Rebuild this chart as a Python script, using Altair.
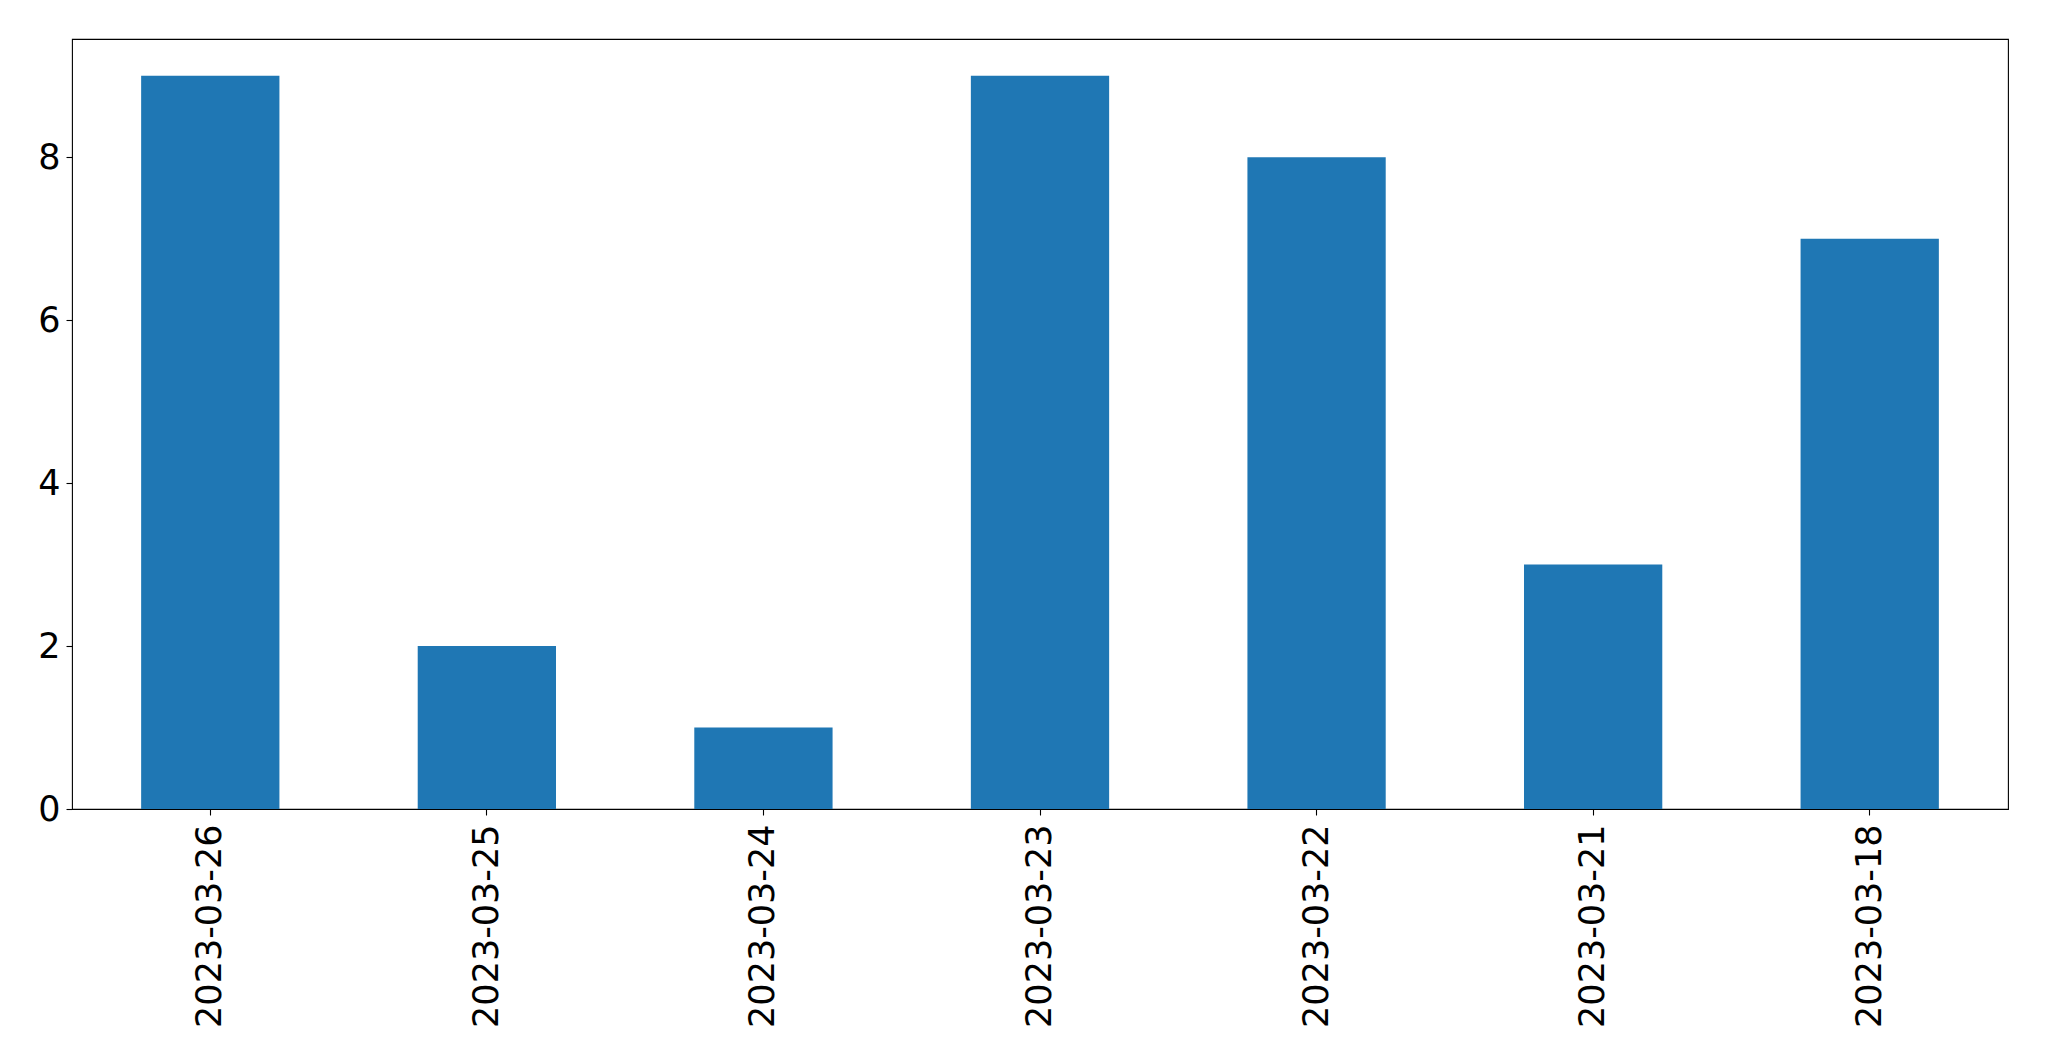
import altair as alt
import pandas as pd

dates = ["2023-03-26", "2023-03-25", "2023-03-24", "2023-03-23", "2023-03-22", "2023-03-21", "2023-03-18"]
counts = [9, 2, 1, 9, 8, 3, 7]
y_ticks = [0, 2, 4, 6, 8]

df = pd.DataFrame({"date": dates, "count": counts})

chart = alt.Chart(df).mark_bar(color="#1f77b4").encode(
    x=alt.X("date:N", sort=dates,
            scale=alt.Scale(paddingInner=0.5, paddingOuter=0.25),
            axis=alt.Axis(title=None, labelAngle=270, labelAlign="right", labelBaseline="middle",
                          labelFont="DejaVu Sans", labelFontSize=35, labelColor="black",
                          tickColor="black", tickSize=6, tickWidth=1.1, labelPadding=9,
                          labelLimit=400, domain=False, grid=False)),
    y=alt.Y("count:Q", scale=alt.Scale(domain=[0, 9.45], nice=False, zero=True),
            axis=alt.Axis(title=None, values=y_ticks, labelFont="DejaVu Sans", labelFontSize=35,
                          labelColor="black", tickColor="black", tickSize=6, tickWidth=1.1,
                          labelPadding=6, domain=False, grid=False)),
).properties(
    width=1936, height=770,
    background="white",
    autosize=alt.AutoSizeParams(type="none"),
    padding={"left": 64, "top": 31, "right": 30, "bottom": 230},
).configure_view(
    stroke="black", strokeWidth=1.1
)

chart.save("out.html", embed_options={"renderer": "svg", "actions": False})
